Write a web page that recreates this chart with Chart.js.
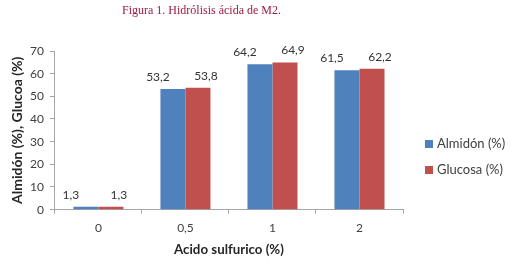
<!DOCTYPE html>
<html>
<head>
<meta charset="utf-8">
<script src="https://cdn.jsdelivr.net/npm/chart.js@4.4.1/dist/chart.umd.min.js"></script>
<style>
    body { margin: 0; background: #fff; }
    #wrap { position: relative; width: 510px; height: 263px; }
    #legend { position: absolute; left: 425px; top: 135px; font-family: Lato, sans-serif; font-size: 13px; color: #404040; }
    #legend div { height: 26px; line-height: 16px; white-space: nowrap; }
    #legend span.box { display: inline-block; width: 8px; height: 8px; margin-right: 4px; vertical-align: 0px; }
</style>
</head>
<body>
<div id="wrap">
    <canvas id="hidrolisisChart" width="510" height="263"></canvas>
    <div id="legend"></div>
</div>
<script>
// Hidrolisis acida de M2
const categories = ['0', '0,5', '1', '2'];
const almidonValues = [1.3, 53.2, 64.2, 61.5];
const glucosaValues = [1.3, 53.8, 64.9, 62.2];
const seriesNames = ['Almidón (%)', 'Glucosa (%)'];

const AXIS_COLOR = '#a6a6a6';

// draws the value above each bar, Excel style with a comma
const barLabels = {
    id: 'barLabels',
    afterDatasetsDraw(chart) {
        const ctx = chart.ctx;
        ctx.save();
        ctx.font = '12px Lato, sans-serif';
        ctx.fillStyle = '#333333';
        ctx.textAlign = 'center';
        ctx.textBaseline = 'middle';
        chart.data.datasets.forEach((ds, i) => {
            const meta = chart.getDatasetMeta(i);
            meta.data.forEach((bar, j) => {
                const text = ds.data[j].toFixed(1).replace('.', ',');
                ctx.fillText(text, bar.x + ds.labelShift, bar.y - 12);
            });
        });
        ctx.restore();
    }
};

const ctx = document.getElementById('hidrolisisChart').getContext('2d');
const chart = new Chart(ctx, {
    type: 'bar',
    data: {
        labels: categories,
        datasets: [{
            label: seriesNames[0],
            data: almidonValues,
            backgroundColor: '#4f81bd',
            labelShift: -15
        }, {
            label: seriesNames[1],
            data: glucosaValues,
            backgroundColor: '#c0504d',
            labelShift: 8
        }]
    },
    options: {
        responsive: false,
        animation: false,
        categoryPercentage: 0.575,
        barPercentage: 1,
        layout: {
            padding: { left: 0, right: 107, top: 0, bottom: 0 }
        },
        scales: {
            x: {
                grid: { drawOnChartArea: false, color: AXIS_COLOR, tickLength: 4 },
                border: { color: AXIS_COLOR },
                ticks: { color: '#404040', font: { family: 'Lato', size: 12 }, padding: 7 },
                title: {
                    display: true,
                    text: 'Acido sulfurico (%)',
                    color: '#262626',
                    font: { family: 'Lato', size: 13.3, weight: 'bold' },
                    padding: { top: 0, bottom: 5 }
                }
            },
            y: {
                min: 0,
                max: 70,
                grid: { drawOnChartArea: false, color: AXIS_COLOR, tickLength: 5 },
                border: { color: AXIS_COLOR },
                ticks: { stepSize: 10, color: '#404040', font: { family: 'Lato', size: 12 }, padding: 6 },
                title: {
                    display: true,
                    text: 'Almidón (%), Glucoa (%)',
                    color: '#262626',
                    font: { family: 'Lato', size: 14, weight: 'bold', lineHeight: 1 },
                    padding: { top: 10, bottom: 0 }
                }
            }
        },
        plugins: {
            legend: { display: false },
            tooltip: { enabled: false },
            title: {
                display: true,
                text: 'Figura 1. Hidrólisis ácida de M2.',
                color: '#9e1b42',
                font: { family: 'Liberation Serif', size: 12, weight: 'normal' },
                padding: { top: 4, bottom: 32.6 }
            }
        }
    },
    plugins: [barLabels]
});

// simple html legend built from the datasets
const legendDiv = document.getElementById('legend');
chart.data.datasets.forEach(ds => {
    const item = document.createElement('div');
    item.innerHTML = `<span class="box" style="background:${ds.backgroundColor}"></span>${ds.label}`;
    legendDiv.appendChild(item);
});
</script>
</body>
</html>
